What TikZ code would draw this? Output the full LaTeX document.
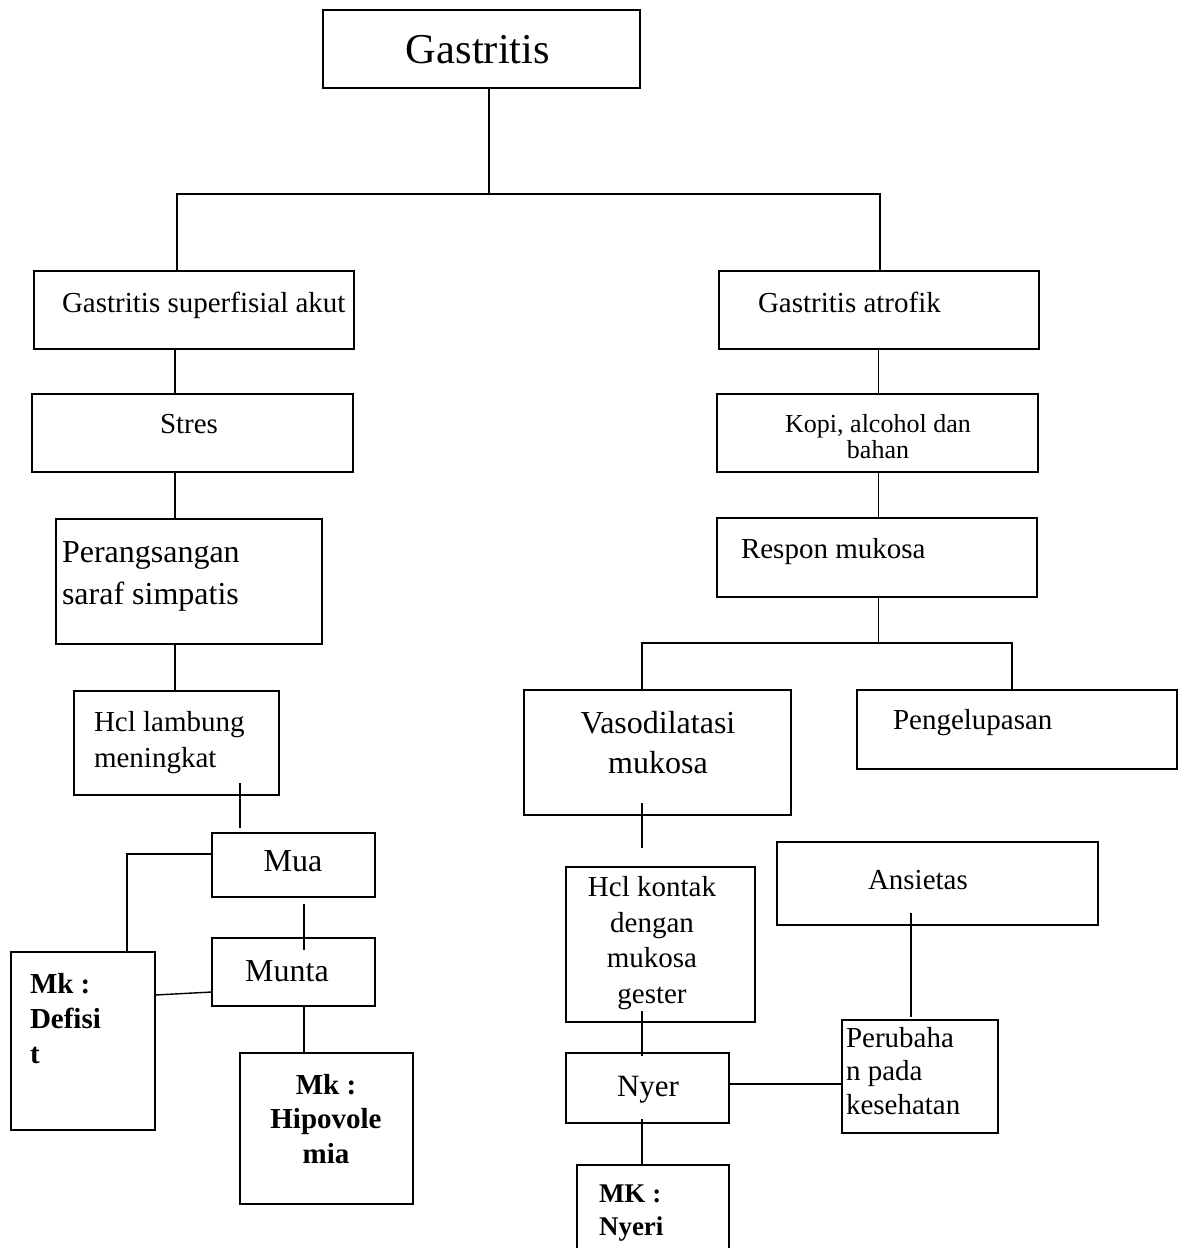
\documentclass[tikz,border=0pt]{standalone}
\usepackage{fontspec}
\setmainfont{Liberation Serif}
\usetikzlibrary{calc}
\newcommand{\fsz}[2]{\fontsize{#1}{#2}\selectfont}
\newcommand{\bx}[5]{%
  \pgfmathsetmacro{\bxw}{#4-#2}\pgfmathsetmacro{\bxh}{#5-#3}%
  \pgfmathsetmacro{\bxcx}{(#2+#4)/2}\pgfmathsetmacro{\bxcy}{(#3+#5)/2}%
  \node[bx, minimum width=\bxw pt, minimum height=\bxh pt] (#1) at (\bxcx,\bxcy) {};}
\begin{document}
\begin{tikzpicture}[x=1pt,y=-1pt,
  bx/.style={draw, line width=1.8pt, inner sep=0pt, outer sep=0pt, rectangle},
  ln/.style={line width=1.4pt},
  txt/.style={inner sep=0pt, outer sep=0pt, font=\fsz{29}{36}},
  txtb/.style={inner sep=0pt, outer sep=0pt, font={\bfseries\fsz{29}{35}}}]
\useasboundingbox (0,0) rectangle (1185,1248);
\clip (0,0) rectangle (1185,1248);
% boxes
\bx{gas}{323}{10}{640}{88}
\bx{sup}{34}{271}{354}{349}
\bx{atr}{719}{271}{1039}{349}
\bx{stres}{32}{394}{353}{472}
\bx{kopi}{717}{394}{1038}{472}
\bx{per}{56}{519}{322}{644}
\bx{resp}{717}{518}{1037}{597}
\bx{hcll}{74}{691}{279}{795}
\bx{vaso}{524}{690}{791}{815}
\bx{peng}{857}{690}{1177}{769}
\bx{mua}{212}{833}{375}{897}
\bx{munta}{212}{938}{375}{1006}
\bx{def}{11}{952}{155}{1130}
\bx{hipo}{240}{1053}{413}{1204}
\bx{hclk}{566}{867}{755}{1022}
\bx{ansi}{777}{842}{1098}{925}
\bx{nyer}{566}{1053}{729}{1123}
\bx{perub}{842}{1020}{998}{1133}
\bx{mkn}{577}{1165}{729}{1275}
% texts (multi-line nodes: base anchor = baseline of last line)
\node[txt, font=\fsz{42.5}{50}, anchor=base] (tgas) at (478,63) {Gastritis};
\node[txt, anchor=base west] (tsup) at (62,312) {Gastritis superfisial akut};
\node[txt, anchor=base west] (tatr) at (758,312) {Gastritis atrofik};
\node[txt, anchor=base west] (tstres) at (160,433) {Stres};
\node[txt, font=\fsz{26}{26}, align=center, anchor=base] (tkopi) at (878,458) {Kopi, alcohol dan\\bahan};
\node[txt, font=\fsz{32}{42}, align=left, anchor=base west] (tper) at (62,604) {Perangsangan\\saraf simpatis};
\node[txt, align=left, anchor=base west] (thcll) at (94,767) {Hcl lambung\\meningkat};
\node[txt, anchor=base west] (tresp) at (741,558) {Respon mukosa};
\node[txt, font=\fsz{32}{40}, align=center, anchor=base] (tvaso) at (658,773) {Vasodilatasi\\mukosa};
\node[txt, anchor=base west] (tpeng) at (893,729) {Pengelupasan};
\node[txt, font=\fsz{32}{40}, anchor=base] (tmua) at (293,871) {Mua};
\node[txt, font=\fsz{32}{40}, anchor=base] (tmunta) at (287,981) {Munta};
\node[txtb, font={\bfseries\fsz{29}{35}}, align=left, anchor=base west] (tdef) at (30,1063) {Mk :\\Defisi\\t};
\node[txtb, font={\bfseries\fsz{29}{34.5}}, align=center, anchor=base] (thipo) at (326,1163) {Mk :\\Hipovole\\mia};
\node[txt, font=\fsz{29}{35.5}, align=center, anchor=base] (thclk) at (652,1003) {Hcl kontak\\dengan\\mukosa\\gester};
\node[txt, anchor=base west] (tansi) at (868,889) {Ansietas};
\node[txt, font=\fsz{31}{40}, anchor=base west] (tnyer) at (617,1096) {Nyer};
\node[txt, font=\fsz{29}{33.5}, align=left, anchor=base west] (tperub) at (846,1114) {Perubaha\\n pada\\kesehatan};
\node[txtb, font={\bfseries\fsz{27}{33}}, align=left, anchor=base west] (tmkn) at (599,1235) {MK :\\Nyeri};
% connector coordinates
\coordinate (j1) at (489,194);
\coordinate (jl) at (177,194);
\coordinate (jr) at (880,194);
\coordinate (xa) at (175,0);
\coordinate (xb) at (878.5,0);
\coordinate (j2) at (878.5,643);
\coordinate (j2l) at (642,643);
\coordinate (j2r) at (1012,643);
\coordinate (xc) at (240,0);
\coordinate (xd) at (127,0);
\coordinate (xe) at (304,0);
\coordinate (xf) at (642,0);
\coordinate (xg) at (911,0);
% connectors
\draw[ln] (gas.south -| j1) -- (j1);
\draw[ln] (sup.north -| jl) -- (jl) -- (jr) -- (atr.north -| jr);
\draw[ln] (sup.south -| xa) -- (stres.north -| xa);
\draw[ln] (stres.south -| xa) -- (per.north -| xa);
\draw[ln] (per.south -| xa) -- (hcll.north -| xa);
\draw[ln] (atr.south -| xb) -- (kopi.north -| xb);
\draw[ln] (kopi.south -| xb) -- (resp.north -| xb);
\draw[ln] (resp.south -| j2) -- (j2);
\draw[ln] (vaso.north -| j2l) -- (j2l) -- (j2r) -- (peng.north -| j2r);
\draw[ln] ($(hcll.south -| xc)+(0,-12)$) -- ($(mua.north -| xc)+(0,-5)$);
\draw[ln] ([yshift=11pt]mua.west) -| (def.north -| xd);
\draw[ln] ($(mua.south -| xe)+(0,7)$) -- ($(munta.north -| xe)+(0,12)$);
\draw[ln] ([yshift=46pt]def.east) -- ([yshift=-20pt]munta.west);
\draw[ln] (munta.south -| xe) -- (hipo.north -| xe);
\draw[ln] ($(vaso.south -| xf)+(0,-12)$) -- ($(hclk.north -| xf)+(0,-19)$);
\draw[ln] ($(hclk.south -| xf)+(0,-11)$) -- ($(nyer.north -| xf)+(0,3)$);
\draw[ln] ([yshift=4pt]nyer.east) coordinate (q) -- (q -| perub.west);
\draw[ln] ($(ansi.south -| xg)+(0,-12)$) -- ($(perub.north -| xg)+(0,-3)$);
\draw[ln] ($(nyer.south -| xf)+(0,-4)$) -- (mkn.north -| xf);
\end{tikzpicture}
\end{document}
